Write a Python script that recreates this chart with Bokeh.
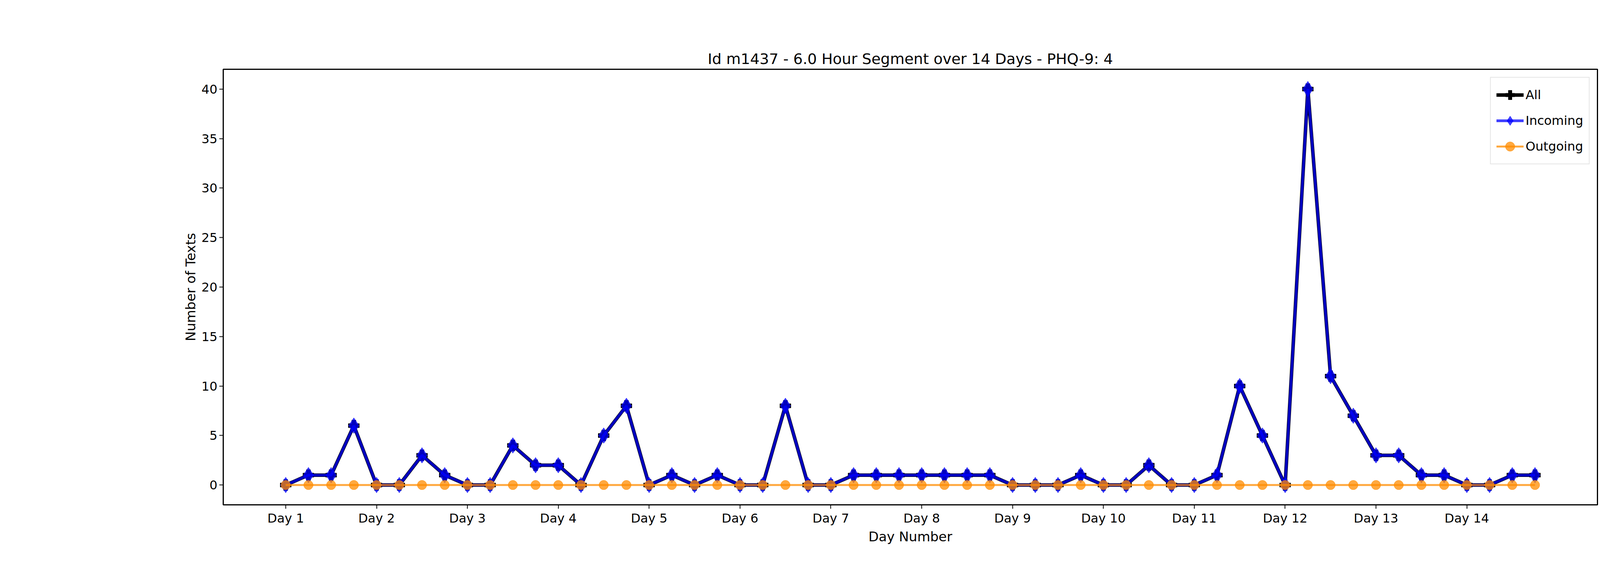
from bokeh.plotting import figure
from bokeh.models import FixedTicker, Range1d
from bokeh.embed import file_html
from bokeh.resources import INLINE

incoming = [0,1,1,6, 0,0,3,1, 0,0,4,2, 2,0,5,8, 0,1,0,1, 0,0,8,0, 0,1,1,1,
            1,1,1,1, 0,0,0,1, 0,0,2,0, 0,1,10,5, 0,40,11,7, 3,3,1,1, 0,0,1,1]
outgoing = [0]*56
all_texts = [a+b for a, b in zip(incoming, outgoing)]
x = list(range(56))
day_labels = ["Day %d" % d for d in range(1, 15)]

F = "DejaVu Sans"
p = figure(width=4480, height=1420, output_backend="svg", toolbar_location=None,
           x_range=Range1d(-2.75, 57.75), y_range=Range1d(-2, 42),
           min_border_left=571, min_border_right=391, min_border_top=177, min_border_bottom=127,
           title="Id m1437 - 6.0 Hour Segment over 14 Days - PHQ-9: 4")
p.title.align = "center"
p.title.text_font = F
p.title.text_font_size = "38px"
p.title.text_font_style = "normal"
p.title.text_color = "black"
p.xgrid.visible = False
p.ygrid.visible = False
p.outline_line_color = "black"
p.outline_line_width = 3

p.line(x, all_texts, line_color="black", line_width=9, legend_label="All")
p.scatter(x, all_texts, marker="plus", size=28, color="black", legend_label="All")
p.line(x, incoming, line_color="blue", line_alpha=0.75, line_width=7, legend_label="Incoming")
p.scatter(x, incoming, marker="diamond", size=40, color="blue", alpha=0.75, legend_label="Incoming")
p.line(x, outgoing, line_color="darkorange", line_alpha=0.75, line_width=5, legend_label="Outgoing")
p.scatter(x, outgoing, marker="circle", size=24, color="darkorange", alpha=0.75, legend_label="Outgoing")

p.xaxis.ticker = FixedTicker(ticks=[4*i for i in range(14)])
p.xaxis.major_label_overrides = {4*i: day_labels[i] for i in range(14)}
p.yaxis.ticker = FixedTicker(ticks=list(range(0, 41, 5)))
for ax in (p.xaxis, p.yaxis):
    ax.major_label_text_font = F
    ax.major_label_text_font_size = "32px"
    ax.major_label_text_color = "black"
    ax.axis_label_text_font = F
    ax.axis_label_text_font_size = "34px"
    ax.axis_label_text_font_style = "normal"
    ax.axis_label_text_color = "black"
    ax.major_tick_in = 0
    ax.major_tick_out = 10
    ax.major_tick_line_width = 2
    ax.minor_tick_line_color = None
    ax.axis_line_color = None
p.xaxis.axis_label = "Day Number"
p.yaxis.axis_label = "Number of Texts"

p.legend.location = "top_right"
p.legend.label_text_font = F
p.legend.label_text_font_size = "32px"
p.legend.label_text_color = "black"
p.legend.glyph_width = 70
p.legend.glyph_height = 60
p.legend.spacing = 6
p.legend.padding = 14
p.legend.margin = 20
p.legend.border_line_color = "#cccccc"
p.legend.border_line_width = 2

open("out.html", "w").write(file_html(p, INLINE))
